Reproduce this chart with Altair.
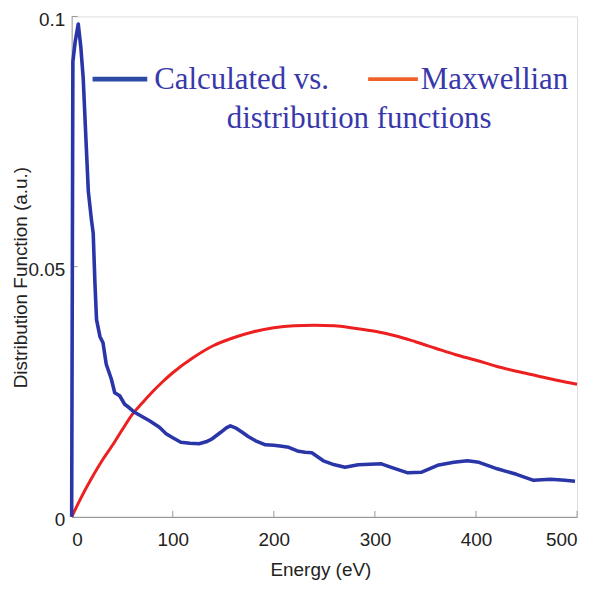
import altair as alt
import pandas as pd

# ---- data ----
calc_energy = [0, 1.2, 3.5, 6.5, 9, 11.4, 14, 16.5, 19.6, 21.3, 23, 24.6, 28, 31, 34.2,
               39.3, 42.6, 47.5, 52.4, 57, 62.2, 70, 77, 86.8, 93.4, 100, 108, 117, 126,
               133, 139, 147.5, 153, 157, 162, 168.7, 175, 182, 191.7, 200, 208, 214.7,
               224.5, 231, 237.6, 249, 260, 270.4, 283.5, 295, 306.4, 316.2, 332.6, 345.7,
               362, 378, 391.6, 403, 421, 440, 457, 473.6, 488, 498]
calc_value = [0, 0.091, 0.095, 0.0985, 0.094, 0.0877, 0.076, 0.065, 0.0593, 0.0567, 0.0468,
              0.0394, 0.036, 0.0348, 0.0305, 0.0275, 0.0248, 0.0242, 0.0225, 0.0218, 0.0209,
              0.0200, 0.0192, 0.0179, 0.0166, 0.0158, 0.0149, 0.0147, 0.0146, 0.0150, 0.0156,
              0.0169, 0.0178, 0.0182, 0.0178, 0.0169, 0.0160, 0.0152, 0.0144, 0.0143, 0.0141,
              0.0139, 0.0131, 0.0129, 0.0128, 0.0112, 0.0104, 0.0099, 0.0104, 0.0105, 0.0106,
              0.0099, 0.0088, 0.0089, 0.0103, 0.0109, 0.0112, 0.0109, 0.0096, 0.0085, 0.0073,
              0.0075, 0.0073, 0.0071]

maxw_energy = [0, 10, 20, 30, 40, 50, 60, 70, 80, 90, 100, 120, 140, 160, 180, 200, 220,
               240, 260, 280, 300, 320, 340, 360, 380, 400, 420, 440, 460, 480, 500]
maxw_value = [0, 0.0041, 0.0078, 0.0112, 0.0142, 0.0174, 0.0205, 0.0228, 0.0250, 0.0270,
              0.0288, 0.0318, 0.0342, 0.0358, 0.0370, 0.0378, 0.0382, 0.0383, 0.0382,
              0.0377, 0.0371, 0.0362, 0.0350, 0.0337, 0.0324, 0.0313, 0.0301, 0.0291,
              0.0282, 0.0273, 0.0265]

x_ticks = [0, 100, 200, 300, 400, 500]
y_ticks = [0, 0.05, 0.1]

legend_line1 = ["Calculated  vs.", "Maxwellian"]
legend_line2 = "distribution functions"

W, H = 508, 503
BLUE = "#2a35a8"
RED = "#ec2020"
TXT = "#3838aa"
LABEL_FONT = "Liberation Sans, sans-serif"

calc_df = pd.DataFrame({"E": calc_energy, "F": calc_value})
maxw_df = pd.DataFrame({"E": maxw_energy, "F": maxw_value})

xscale = alt.Scale(domain=[0, 500], nice=False)
yscale = alt.Scale(domain=[0, 0.1], nice=False)

xaxis = alt.Axis(values=x_ticks, title="Energy (eV)", grid=False, ticks=False,
                 domainColor="#8a8a8a", labelFont=LABEL_FONT, labelFontSize=19,
                 labelColor="#222", labelPadding=14,
                 titleFont="Liberation Sans", titleFontSize=19, titleFontWeight="normal",
                 titleColor="#222", titleX=250, titleY=53, titleBaseline="middle")
yaxis = alt.Axis(values=y_ticks, format="~g", title="Distribution Function (a.u.)",
                 grid=False, ticks=False, domainColor="#a0a0a0", labelFont=LABEL_FONT,
                 labelFontSize=19, labelColor="#222", labelPadding=7, labelOffset=3,
                 titleFont="Liberation Sans", titleFontSize=19, titleFontWeight="normal",
                 titleColor="#222", titleX=-51, titleY=262, titleAngle=270,
                 titleAlign="center", titleBaseline="middle")

calc = alt.Chart(calc_df).mark_line(color=BLUE, strokeWidth=3.6, strokeJoin="round").encode(
    x=alt.X("E:Q", scale=xscale, axis=xaxis),
    y=alt.Y("F:Q", scale=yscale, axis=yaxis),
    order="E:Q",
)
maxw = alt.Chart(maxw_df).mark_line(color=RED, strokeWidth=3, interpolate="monotone").encode(
    x=alt.X("E:Q", scale=xscale),
    y=alt.Y("F:Q", scale=yscale),
)

# inward ticks
xt = alt.Chart(pd.DataFrame({"E": x_ticks[1:]})).mark_rule(color="#999", strokeWidth=1).encode(
    x=alt.X("E:Q", scale=xscale), y=alt.value(H), y2=alt.value(H - 6))
yt = alt.Chart(pd.DataFrame({"F": y_ticks[1:]})).mark_rule(color="#999", strokeWidth=1).encode(
    y=alt.Y("F:Q", scale=yscale), x=alt.value(0), x2=alt.value(6))

# hand-drawn legend
leg_blue = alt.Chart(pd.DataFrame({"a": [0]})).mark_rule(color="#2d4aa6", strokeWidth=5).encode(
    x=alt.value(21), x2=alt.value(76), y=alt.value(63))
leg_red = alt.Chart(pd.DataFrame({"a": [0]})).mark_rule(color="#f0602a", strokeWidth=4).encode(
    x=alt.value(298), x2=alt.value(348), y=alt.value(63))
txt_style = dict(font="Liberation Serif", fontSize=31, color=TXT, align="left",
                 baseline="alphabetic")
t1 = alt.Chart(pd.DataFrame({"t": [legend_line1[0]]})).mark_text(**txt_style).encode(
    x=alt.value(83), y=alt.value(73), text="t:N")
t2 = alt.Chart(pd.DataFrame({"t": [legend_line1[1]]})).mark_text(**txt_style).encode(
    x=alt.value(351), y=alt.value(73), text="t:N")
t3 = alt.Chart(pd.DataFrame({"t": [legend_line2]})).mark_text(**txt_style).encode(
    x=alt.value(156), y=alt.value(112), text="t:N")

chart = alt.layer(xt, yt, maxw, calc, leg_blue, leg_red, t1, t2, t3).properties(
    width=W, height=H,
    autosize=alt.AutoSizeParams(type="none"),
    padding={"left": 64, "top": 7, "right": 10, "bottom": 70},
).configure_view(stroke=None).configure(background="white")

chart.save("out.html", embed_options={"renderer": "svg", "actions": False})
